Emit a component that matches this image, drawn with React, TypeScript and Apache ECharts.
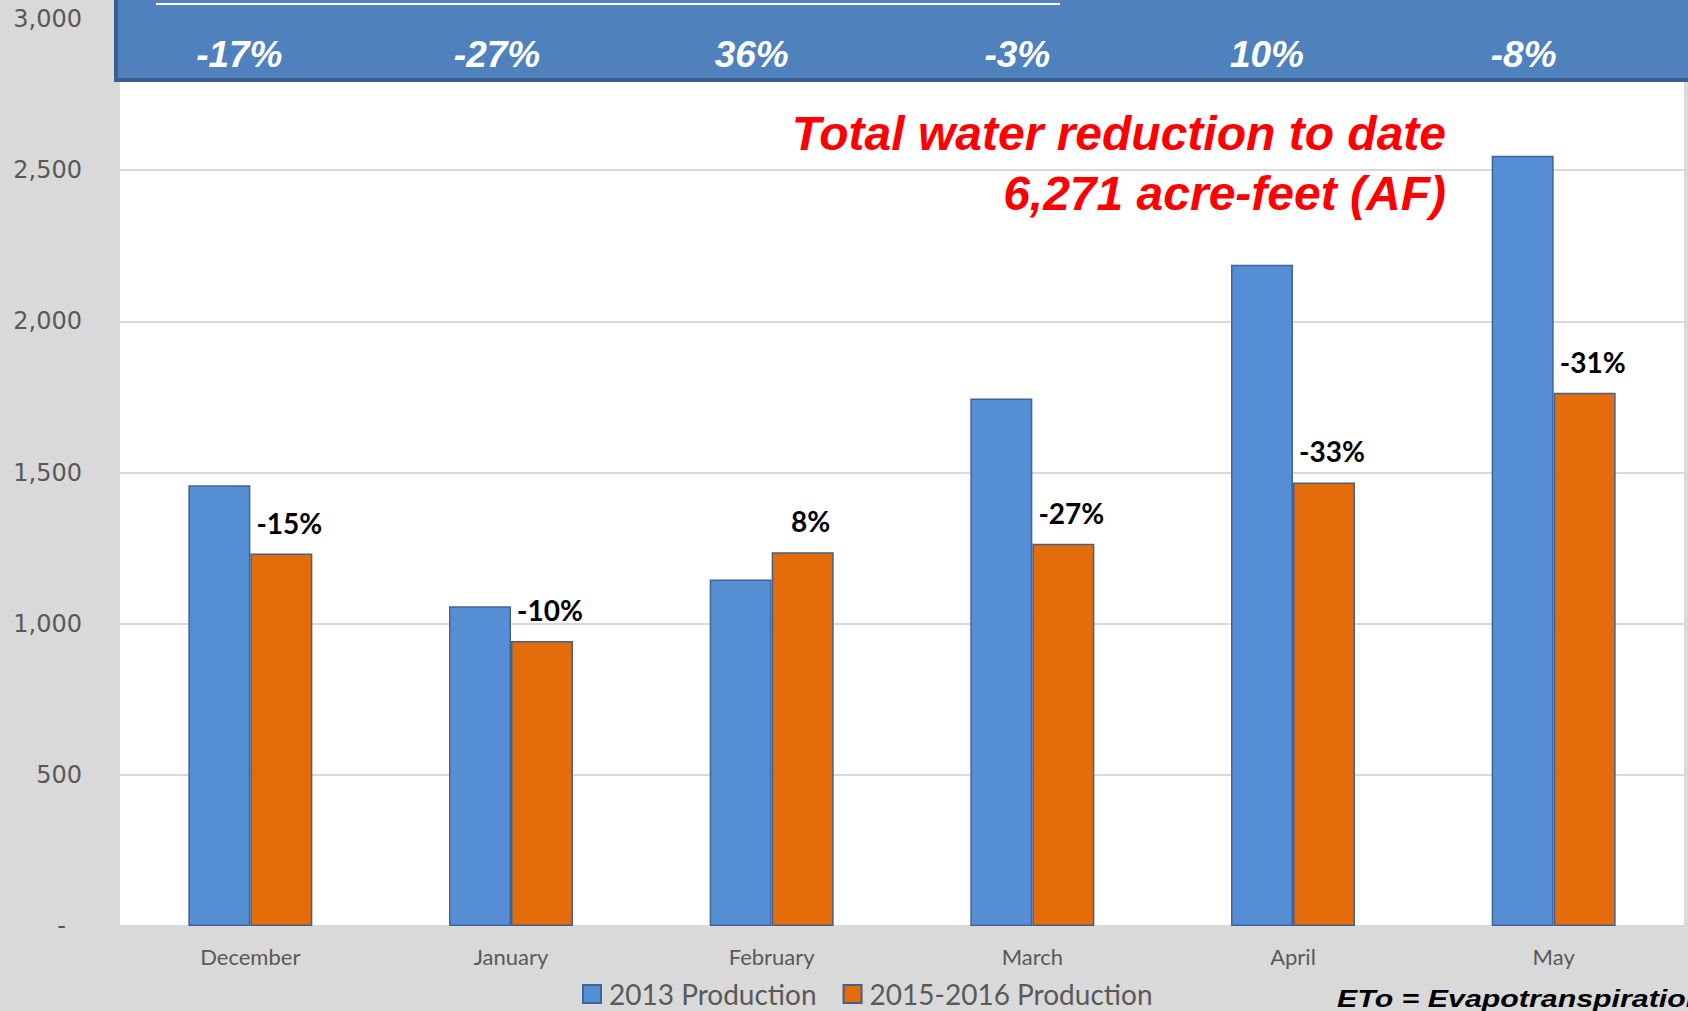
import React, { useEffect, useRef } from "react";
import * as echarts from "echarts";

const months = ["December", "January", "February", "March", "April", "May"];
const production2013 = [1458, 1058, 1146, 1745, 2187, 2548];
const production2015_16 = [1232, 943, 1236, 1264, 1467, 1764];
const changeLabels = ["-15%", "-10%", "8%", "-27%", "-33%", "-31%"];
const etoChange = ["-17%", "-27%", "36%", "-3%", "10%", "-8%"];
const seriesNames = ["2013 Production", "2015-2016 Production"];
const annotationLines = ["Total water reduction to date", "6,271 acre-feet (AF)"];
const footnote = "ETo = Evapotranspiration";

// horizontal nudges (px, right padding) of the banner labels, as placed in the original slide
const bannerNudge = [22, 28, 40, 30, 52, 60];

export default function App() {
  const ref = useRef<HTMLDivElement>(null);

  useEffect(() => {
    document.body.style.margin = "0";
    const chart = echarts.init(ref.current!, null, { renderer: "svg" });
    const bannerRich: any = {};
    bannerNudge.forEach((p, i) => {
      bannerRich["b" + i] = {
        padding: [0, p, 0, 0],
        color: "#FFFFFF",
        fontFamily: "Liberation Sans",
        fontStyle: "italic",
        fontWeight: "bold",
        fontSize: 37,
      };
    });
    const option: any = {
      animation: false,
      backgroundColor: "#D9D9D9",
      grid: {
        left: 120,
        right: 4,
        top: 19,
        bottom: 85,
        show: true,
        backgroundColor: "#FFFFFF",
        borderWidth: 0,
      },
      legend: {
        data: seriesNames,
        left: 582,
        top: 980,
        padding: 0,
        itemWidth: 18,
        itemHeight: 18,
        itemGap: 26,
        icon: "rect",
        textStyle: { color: "#595959", fontFamily: "Lato", fontSize: 28, padding: [0, 0, 0, 3] },
      },
      xAxis: [
        {
          type: "category",
          data: months,
          axisLine: { show: false },
          axisTick: { show: false },
          axisLabel: { color: "#595959", fontFamily: "Lato", fontSize: 22, margin: 19 },
        },
        {
          type: "category",
          data: months,
          position: "top",
          z: 10,
          axisLine: { show: false },
          axisTick: { show: false },
          axisLabel: {
            inside: true,
            margin: 17,
            formatter: (_v: string, i: number) => "{b" + i + "|" + etoChange[i] + "}",
            rich: bannerRich,
          },
        },
      ],
      yAxis: {
        type: "value",
        min: 0,
        max: 3000,
        interval: 500,
        axisLine: { show: false },
        axisTick: { show: false },
        splitLine: { lineStyle: { color: "#D9D9D9", width: 2 } },
        axisLabel: {
          margin: 38,
          color: "#595959",
          fontFamily: "DejaVu Sans",
          fontSize: 24,
          formatter: (v: number) => (v === 0 ? "{z|-}" : v.toLocaleString("en-US")),
          rich: { z: { padding: [0, 16, 0, 0], fontSize: 24, color: "#595959", fontFamily: "DejaVu Sans" } },
        },
      },
      series: [
        {
          name: seriesNames[0],
          type: "bar",
          data: production2013,
          barWidth: 62,
          barGap: "0%",
          itemStyle: { color: "#558ED5", borderColor: "#3E6597", borderWidth: 1.5 },
        },
        {
          name: seriesNames[1],
          type: "bar",
          data: production2015_16,
          barWidth: 62,
          barGap: "0%",
          itemStyle: { color: "#E46C0A", borderColor: "#41608F", borderWidth: 1.5 },
          label: {
            show: true,
            position: "top",
            distance: 17,
            offset: [8, 0],
            formatter: (p: any) => changeLabels[p.dataIndex],
            color: "#000000",
            fontFamily: "Lato",
            fontWeight: "bold",
            fontSize: 28,
          },
        },
      ],
      graphic: [
        {
          type: "rect",
          z: 5,
          shape: { x: 116, y: -10, width: 1600, height: 90 },
          style: { fill: "#4F81BD", stroke: "#3A5F8E", lineWidth: 4 },
        },
        {
          type: "line",
          z: 6,
          shape: { x1: 156, y1: 4, x2: 1060, y2: 4 },
          style: { stroke: "#FFFFFF", lineWidth: 2 },
        },
        {
          type: "text",
          z: 7,
          x: 1446,
          y: 163,
          style: {
            text: annotationLines.join("\n"),
            align: "right",
            verticalAlign: "middle",
            lineHeight: 60,
            fill: "#FF0000",
            fontFamily: "Liberation Sans",
            fontStyle: "italic",
            fontWeight: "bold",
            fontSize: 48,
          },
        },
        {
          type: "text",
          z: 7,
          x: 1337,
          y: 999,
          scaleX: 1.32,
          style: {
            text: footnote,
            align: "left",
            verticalAlign: "middle",
            fill: "#000000",
            fontFamily: "Liberation Sans",
            fontStyle: "italic",
            fontWeight: "bold",
            fontSize: 23,
          },
        },
      ],
    };
    chart.setOption(option);
    return () => chart.dispose();
  }, []);

  return <div ref={ref} style={{ width: 1688, height: 1011 }} />;
}
